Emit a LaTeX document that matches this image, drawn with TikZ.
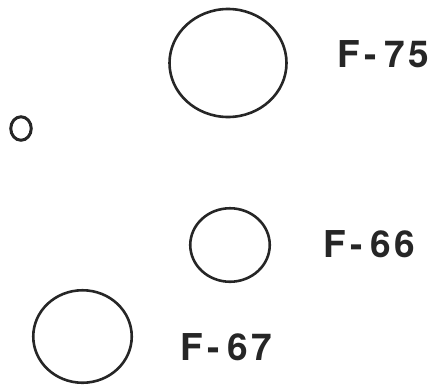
\documentclass[tikz,border=0pt]{standalone}
\usepackage{fontspec}
\setmainfont{TeX Gyre Heros}
\usetikzlibrary{shapes.geometric}
\tikzset{
  ring/.style={draw=black!85, line width=2.6pt, ellipse, inner sep=0pt},
  tag/.style={anchor=base west, inner sep=0pt, font=\fontsize{37}{37}\selectfont\bfseries, text=black!85}
}
\newcommand{\fig}[2]{F\hspace{5pt}-\hspace{7pt}#1\hspace{4pt}#2}
\begin{document}
\begin{tikzpicture}[x=1pt, y=-1pt]
  \useasboundingbox (0,0) rectangle (436,389);
  % specimen outlines
  \node[ring, minimum width=117pt, minimum height=108pt] (f75) at (228,63) {};
  \node[ring, line width=3pt, minimum width=20.5pt, minimum height=23.5pt] (dot) at (21,128.5) {};
  \node[ring, minimum width=79.5pt, minimum height=73.5pt] (f66) at (230,245) {};
  \node[ring, minimum width=98.5pt, minimum height=92.5pt] (f67) at (82.5,336.5) {};
  % labels
  \node[tag] (l75) at (337,67) {\fig{7}{5}};
  \node[tag] (l66) at (323,257) {\fig{6}{6}};
  \node[tag] (l67) at (180,360) {\fig{6}{7}};
\end{tikzpicture}
\end{document}
